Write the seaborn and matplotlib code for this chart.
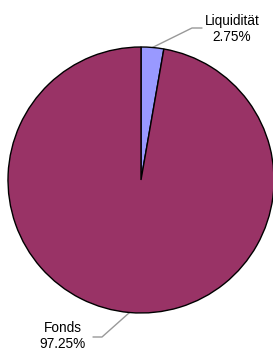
import numpy as np
import seaborn as sns
import matplotlib.pyplot as plt

labels = ['Liquidität', 'Fonds']
values = [2.75, 97.25]
colors = ['#9999FF', '#993366']

sns.set_style('white')
plt.rcParams['font.family'] = ['Liberation Sans', 'DejaVu Sans']

W, H = 273, 353
fig = plt.figure(figsize=(W / 100, H / 100), dpi=100)
ax = fig.add_axes([0, 0, 1, 1])

# pie geometry in pixel units (y up)
cx, cy, r = 141, H - 180, 133
wedges, _ = ax.pie(values, colors=colors, startangle=90, counterclock=False,
                   center=(cx, cy), radius=r,
                   wedgeprops=dict(edgecolor='black', linewidth=1.0))

# leader lines + labels: (elbow offset, end offset, text pos)
label_layout = [
    ((51, 152), (61, 152), (232, H - 29)),
    ((-39, -157), (-48, -157), (63, H - 336)),
]
for w, lab, val, (elb, end, tp) in zip(wedges, labels, values, label_layout):
    mid = np.deg2rad((w.theta1 + w.theta2) / 2)
    sx, sy = cx + r * np.cos(mid), cy + r * np.sin(mid)
    ax.plot([sx, cx + elb[0], cx + end[0]], [sy, cy + elb[1], cy + end[1]],
            color='#999999', linewidth=1.0, zorder=0)
    ax.text(tp[0], tp[1], f'{lab}\n{val:.2f}%', ha='center', va='center',
            fontsize=9.8, linespacing=1.25, color='black')

ax.set_xlim(0, W)
ax.set_ylim(0, H)
ax.set_aspect('auto')
ax.axis('off')

fig.savefig('out.png', dpi=100)
